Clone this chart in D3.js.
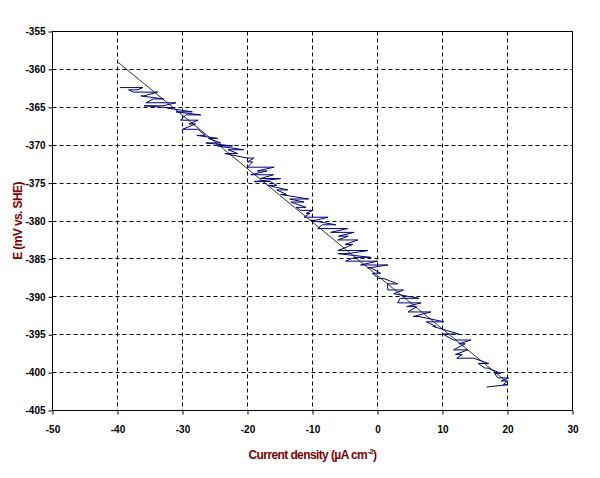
<!DOCTYPE html>
<html>
<head>
<meta charset="utf-8">
<script src="https://cdnjs.cloudflare.com/ajax/libs/d3/7.8.5/d3.min.js"></script>
<style>
body { margin: 0; background: #fff; }
.tick text { font-family: Arial, "Liberation Sans", sans-serif; font-weight: bold; font-size: 10px; fill: #000; }
.axis-title { font-family: Arial, "Liberation Sans", sans-serif; font-weight: bold; font-size: 12px; fill: #800000; letter-spacing: -0.6px; }
</style>
</head>
<body>
<div class="chart"></div>
<script>

var xTicks = [-50, -40, -30, -20, -10, 0, 10, 20, 30];
var yTicks = [-355, -360, -365, -370, -375, -380, -385, -390, -395, -400, -405];

// linear fit
var fitX = [-40, 20];
var fitY = [-359.0, -401.3];

// measured curve, current density vs potential
var curX = [-39.6, -36.1, -37.0, -38.3, -37.5, -33.8, -36.0, -36.4, -32.9, -34.5,
    -35.6, -31.0, -33.0, -35.9, -31.5, -32.3, -28.5, -31.0, -27.2, -29.5,
    -30.3, -27.6, -29.0, -28.0, -30.0, -27.6, -26.5, -27.8, -24.6, -26.0,
    -24.1, -26.4, -22.3, -24.6, -20.6, -23.0, -21.5, -23.5, -20.0, -19.0,
    -20.0, -19.2, -20.0, -15.9, -18.5, -17.0, -19.5, -16.0, -18.0, -14.9,
    -19.0, -16.5, -15.5, -16.9, -13.8, -15.5, -14.0, -14.9, -10.6, -13.5,
    -11.3, -13.3, -11.0, -12.5, -11.8, -9.9, -11.0, -10.4, -11.3, -7.6,
    -9.5, -10.3, -6.4, -8.5, -9.2, -4.6, -7.2, -3.6, -6.0, -4.5,
    -6.1, -3.0, -5.0, -3.8, -6.1, -1.5, -4.5, -6.1, -1.0, -3.5,
    -4.9, 0.0, -2.6, 1.6, -1.5, -1.0, 0.5, -0.8, 0.2, 1.0,
    3.1, 1.5, 1.6, 4.0, 2.5, 2.5, 6.4, 3.5, 3.1, 6.7,
    4.5, 6.0, 4.7, 8.2, 5.5, 6.4, 10.2, 7.5, 9.0, 8.5,
    12.5, 10.0, 11.7, 14.4, 12.5, 13.5, 11.7, 13.9, 12.0, 13.0,
    12.2, 14.8, 17.1, 15.5, 16.5, 17.0, 19.0, 18.0, 18.5, 20.2,
    19.0, 20.0, 19.3, 20.0, 16.8];
var curY = [-362.4, -362.4, -362.7, -362.7, -363.0, -363.0, -363.5, -363.5, -363.9, -363.9,
    -364.4, -364.4, -364.8, -364.8, -365.1, -365.1, -365.6, -365.6, -366.0, -366.0,
    -366.7, -366.7, -367.2, -367.2, -367.9, -367.9, -368.7, -368.7, -369.1, -369.1,
    -369.7, -369.7, -370.1, -370.1, -370.6, -370.6, -371.1, -371.1, -371.7, -371.7,
    -372.2, -372.2, -372.9, -372.9, -373.4, -373.4, -373.9, -373.9, -374.4, -374.4,
    -374.8, -374.8, -375.3, -375.3, -375.9, -375.9, -376.5, -376.5, -377.1, -377.1,
    -377.5, -377.5, -378.2, -378.2, -378.6, -378.6, -379.0, -379.0, -379.5, -379.5,
    -379.9, -379.9, -380.5, -380.5, -381.0, -381.0, -381.5, -381.5, -382.0, -382.0,
    -382.5, -382.5, -383.1, -383.1, -383.9, -383.9, -384.3, -384.3, -384.8, -384.8,
    -385.3, -385.3, -385.8, -385.8, -386.2, -386.2, -386.9, -386.9, -387.6, -387.6,
    -388.3, -388.3, -389.1, -389.1, -389.6, -389.6, -390.2, -390.2, -390.8, -390.8,
    -391.3, -391.3, -392.0, -392.0, -392.6, -392.6, -393.3, -393.3, -393.9, -393.9,
    -394.9, -394.9, -395.7, -395.7, -396.2, -396.2, -397.0, -397.0, -397.6, -397.6,
    -398.1, -398.1, -398.8, -398.8, -399.4, -399.4, -400.1, -400.1, -400.7, -400.7,
    -401.1, -401.1, -401.6, -401.6, -401.9];

var svgWidth = 600;
var svgHeight = 478;

var margin = {top: 31, right: 28, bottom: 68, left: 52};

var width = svgWidth - margin.left - margin.right;
var height = svgHeight - margin.top - margin.bottom;

var svg = d3
    .select(".chart")
    .append("svg")
    .attr("width", svgWidth)
    .attr("height", svgHeight)
    .append("g")
    .attr("transform", "translate(" + (margin.left + 0.5) + "," + (margin.top + 0.5) + ")");

var xLinearScale = d3.scaleLinear()
    .domain([-50, 30])
    .range([0, width]);

var yLinearScale = d3.scaleLinear()
    .domain([-355, -405])
    .range([0, height]);

// dashed grid
svg.append("g")
    .selectAll("line")
    .data(xTicks.slice(1, -1))
    .enter()
    .append("line")
    .attr("x1", function(d) { return Math.round(xLinearScale(d)); })
    .attr("x2", function(d) { return Math.round(xLinearScale(d)); })
    .attr("y1", 0)
    .attr("y2", height)
    .attr("stroke", "#000")
    .attr("stroke-dasharray", "4,3");

svg.append("g")
    .selectAll("line")
    .data(yTicks.slice(1, -1))
    .enter()
    .append("line")
    .attr("x1", 0)
    .attr("x2", width)
    .attr("y1", function(d) { return Math.round(yLinearScale(d)); })
    .attr("y2", function(d) { return Math.round(yLinearScale(d)); })
    .attr("stroke", "#000")
    .attr("stroke-dasharray", "4,3");

var bottomAxis = d3.axisBottom(xLinearScale)
    .tickValues(xTicks)
    .tickSize(4)
    .tickSizeOuter(0)
    .tickPadding(11)
    .tickFormat(function(d) { return String(d); });

var leftAxis = d3.axisLeft(yLinearScale)
    .tickValues(yTicks)
    .tickSize(4)
    .tickSizeOuter(0)
    .tickPadding(3)
    .tickFormat(function(d) { return String(d); });

var xAxis = svg.append("g")
    .attr("transform", "translate(0," + height + ")")
    .call(bottomAxis);

var yAxis = svg.append("g")
    .call(leftAxis);

xAxis.select(".domain").remove();
yAxis.select(".domain").remove();

svg.append("rect")
    .attr("x", 0)
    .attr("y", 0)
    .attr("width", width)
    .attr("height", height)
    .attr("fill", "none")
    .attr("stroke", "#000");

var fitData = fitX.map(function(d, i) { return [d, fitY[i]]; });
var curData = curX.map(function(d, i) { return [d, curY[i]]; });

var line = d3.line()
    .x(function(d) { return xLinearScale(d[0]); })
    .y(function(d) { return yLinearScale(d[1]); });

// fit line
svg.append("path")
    .datum(fitData)
    .attr("d", line)
    .attr("fill", "none")
    .attr("stroke", "#000")
    .attr("stroke-width", 0.8);

svg.append("path")
    .datum(curData)
    .attr("d", line)
    .attr("fill", "none")
    .attr("stroke", "#000080")
    .attr("stroke-width", 1);

// axis titles
var xTitle = svg.append("text")
    .attr("class", "axis-title")
    .attr("x", width / 2)
    .attr("y", height + 48)
    .attr("text-anchor", "middle");

xTitle.append("tspan").text("Current density (\u00b5A cm");
xTitle.append("tspan")
    .attr("dy", "-5")
    .attr("font-size", "8px")
    .text("-2");
xTitle.append("tspan")
    .attr("dy", "5")
    .text(")");

svg.append("text")
    .attr("class", "axis-title")
    .attr("transform", "translate(-31," + (height / 2) + ") rotate(-90)")
    .attr("text-anchor", "middle")
    .text("E (mV vs. SHE)");

</script>
</body>
</html>
